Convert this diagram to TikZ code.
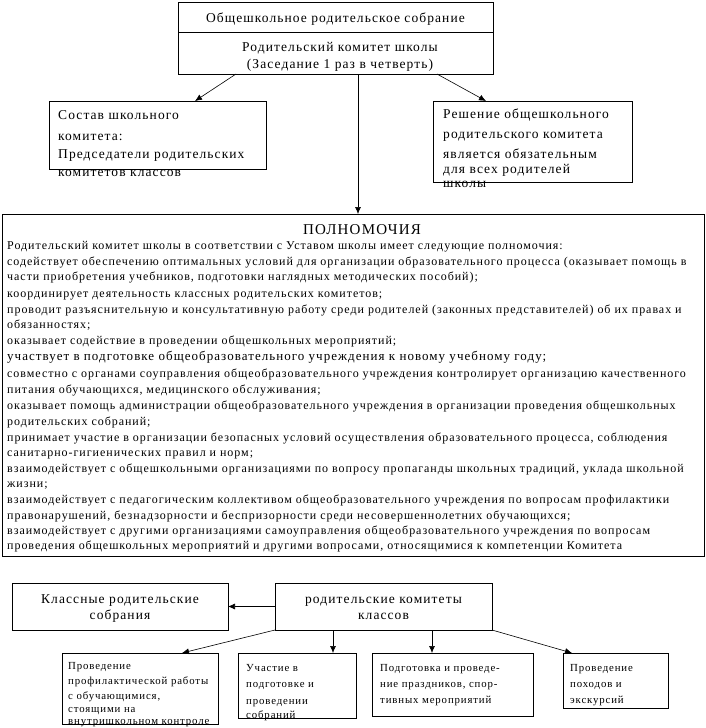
\documentclass[tikz,border=0pt]{standalone}
\usepackage{fontspec}
\setmainfont{Liberation Serif}
\newfontfamily\lsfont[LetterSpace=8.0]{Liberation Serif}
\usetikzlibrary{arrows.meta}
\newcommand\mybox[5]{\node[box, minimum width={#4-#2}, minimum height={#5-#3}] (#1) at ({(#2+#4)/2},{(#3+#5)/2}) {};}
\begin{document}
\begin{tikzpicture}[x=1pt,y=-1pt,
  box/.style={draw, line width=0.9pt, inner sep=0pt, outer sep=0pt},
  arr/.style={-{Latex[length=7pt,width=6pt]}, line width=0.6pt},
  body/.style={anchor=base west, inner sep=0pt, font=\lsfont\fontsize{12}{14}\selectfont},
  big/.style={anchor=base, inner sep=0pt, font=\lsfont\fontsize{13.5}{16}\selectfont},
  bigl/.style={anchor=base west, inner sep=0pt, font=\lsfont\fontsize{13.5}{16}\selectfont},
  small/.style={anchor=base west, inner sep=0pt, font=\lsfont\fontsize{10.8}{12}\selectfont}]
\useasboundingbox (0,0) rectangle (706,728);
% boxes
\mybox{top}{178}{2}{493}{74}
\coordinate (dv) at (0,32);
\draw[line width=0.9pt] (top.west |- dv) -- (top.east |- dv);
\mybox{lb}{49}{101}{266}{169}
\mybox{rb}{433}{101}{632}{182}
\mybox{pw}{2}{214}{704}{556}
\mybox{kl}{12}{583}{228}{630}
\mybox{rk}{275}{583}{492}{630}
\mybox{b1}{62}{653}{218}{724}
\mybox{b2}{238}{653}{356}{718}
\mybox{b3}{372}{653}{533}{716}
\mybox{b4}{563}{653}{668}{708}
% top texts
\node[big] (t1) at (335.5,22) {Общешкольное родительское собрание};
\node[big] (t2) at (340,51) {Родительский комитет школы};
\node[big] (t3) at (340,68) {(Заседание 1 раз в четверть)};
\node[bigl] (lt1) at (58,119) {Состав школьного};
\node[bigl] (lt2) at (58,140) {комитета:};
\node[bigl] (lt3) at (58,158) {Председатели родительских};
\node[bigl] (lt4) at (58,176) {комитетов классов};
\node[bigl] (rt1) at (443,118) {Решение общешкольного};
\node[bigl] (rt2) at (443,138) {родительского комитета};
\node[bigl] (rt3) at (443,158) {является обязательным};
\node[bigl] (rt4) at (443,173) {для всех родителей};
\node[bigl] (rt5) at (443,187) {школы};
% arrows top
\draw[arr] ([xshift=-99.5pt]top.south) -- ([xshift=37.5pt]lb.north);
\draw[arr] ([xshift=101.5pt]top.south) -- ([xshift=-46.5pt]rb.north);
\draw[arr] ([xshift=22.5pt]top.south) -- ([xshift=5pt]pw.north);
% powers
\node[anchor=base, inner sep=0pt, font=\lsfont\fontsize{15}{17}\selectfont] (ph) at (362,234) {ПОЛНОМОЧИЯ};
\node[body] (l1) at (7,249) {Родительский комитет школы в соответствии с Уставом школы имеет следующие полномочия:};
\node[body] (l2) at (7,265) {содействует обеспечению оптимальных условий для организации образовательного процесса (оказывает помощь в};
\node[body] (l3) at (7,280) {части приобретения учебников, подготовки наглядных методических пособий);};
\node[body] (l4) at (7,297) {координирует деятельность классных родительских комитетов;};
\node[body] (l5) at (7,313) {проводит разъяснительную и консультативную работу среди родителей (законных представителей) об их правах и};
\node[body] (l6) at (7,328) {обязанностях;};
\node[body] (l7) at (7,344) {оказывает содействие в проведении общешкольных мероприятий;};
\node[anchor=base west, inner sep=0pt, font=\lsfont\fontsize{13}{15}\selectfont] (l8) at (7,360) {участвует в подготовке общеобразовательного учреждения к новому учебному году;};
\node[body] (l9) at (7,377) {совместно с органами соуправления общеобразовательного учреждения контролирует организацию качественного};
\node[body] (l10) at (7,393) {питания обучающихся, медицинского обслуживания;};
\node[body] (l11) at (7,409) {оказывает помощь администрации общеобразовательного учреждения в организации проведения общешкольных};
\node[body] (l12) at (7,425) {родительских собраний;};
\node[body] (l13) at (7,441) {принимает участие в организации безопасных условий осуществления образовательного процесса, соблюдения};
\node[body] (l14) at (7,456) {санитарно-гигиенических правил и норм;};
\node[body] (l15) at (7,472) {взаимодействует с общешкольными организациями по вопросу пропаганды школьных традиций, уклада школьной};
\node[body] (l16) at (7,487) {жизни;};
\node[body] (l17) at (7,503) {взаимодействует с педагогическим коллективом общеобразовательного учреждения по вопросам профилактики};
\node[body] (l18) at (7,519) {правонарушений, безнадзорности и беспризорности среди несовершеннолетних обучающихся;};
\node[body] (l19) at (7,534) {взаимодействует с другими организациями самоуправления общеобразовательного учреждения по вопросам};
\node[body] (l20) at (7,549) {проведения общешкольных мероприятий и другими вопросами, относящимися к компетенции Комитета};
% bottom
\node[big] (k1) at (120,603) {Классные родительские};
\node[big] (k2) at (120,619) {собрания};
\node[big] (r1) at (383.5,603) {родительские комитеты};
\node[big] (r2) at (383.5,619) {классов};
\draw[arr] (rk.west) -- (kl.east);
\draw[arr] (rk.south west) -- ([xshift=42pt]b1.north);
\draw[arr] ([xshift=-50.5pt]rk.south) -- ([xshift=-50.5pt]rk.south |- b2.north);
\draw[arr] ([xshift=48.5pt]rk.south) -- ([xshift=48.5pt]rk.south |- b3.north);
\draw[arr] (rk.south east) -- ([xshift=-43.5pt]b4.north);
\node[small] (s11) at (68,669) {Проведение};
\node[small] (s12) at (68,684) {профилактической работы};
\node[small] (s13) at (68,699) {с обучающимися,};
\node[small] (s14) at (68,712) {стоящими на};
\node[small] (s15) at (68,724) {внутришкольном контроле};
\node[small] (s21) at (246,671) {Участие в};
\node[small] (s22) at (246,687) {подготовке и};
\node[small] (s23) at (246,704) {проведении};
\node[small] (s24) at (246,718) {собраний};
\node[small] (s31) at (380,671) {Подготовка и проведе-};
\node[small] (s32) at (380,687) {ние праздников, спор-};
\node[small] (s33) at (380,703) {тивных мероприятий};
\node[small] (s41) at (570,671) {Проведение};
\node[small] (s42) at (570,687) {походов и};
\node[small] (s43) at (570,703) {экскурсий};
\end{tikzpicture}
\end{document}
